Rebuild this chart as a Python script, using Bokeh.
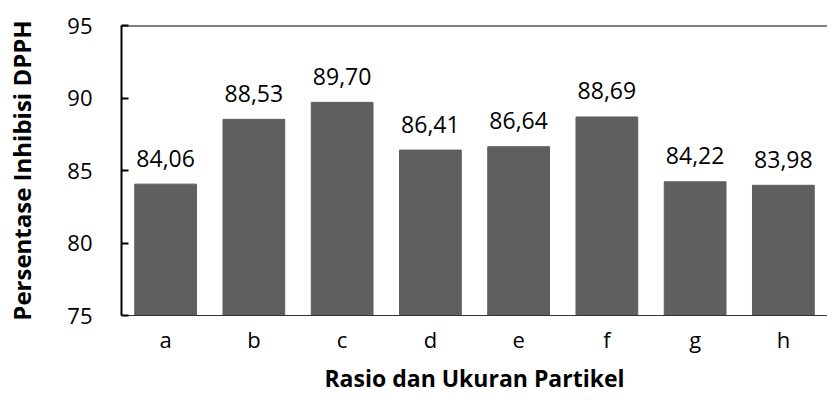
from bokeh.plotting import figure
from bokeh.models import ColumnDataSource, FactorRange, Range1d, FixedTicker, Span
from bokeh.core.properties import value
from bokeh.embed import file_html
from bokeh.resources import INLINE

categories = ["a", "b", "c", "d", "e", "f", "g", "h"]
values = [84.06, 88.53, 89.70, 86.41, 86.64, 88.69, 84.22, 83.98]
labels = ["84,06", "88,53", "89,70", "86,41", "86,64", "88,69", "84,22", "83,98"]
y_ticks = [75, 80, 85, 90, 95]

FONT = "Open Sans"

src = ColumnDataSource(dict(cat=categories, val=values, lab=labels))

p = figure(width=827, height=396, x_range=FactorRange(*categories, range_padding=0),
           y_range=Range1d(75, 95), output_backend="svg", toolbar_location=None,
           min_border_left=121, min_border_right=0, min_border_top=25, min_border_bottom=0)

p.vbar(x="cat", top="val", bottom=75, width=0.7, source=src, color="#5f5f5f")
p.text(x="cat", y="val", text="lab", source=src, text_align="center",
       text_baseline="alphabetic", y_offset=-26, text_font=value(FONT),
       text_font_size="23px", text_color="#000000")

p.outline_line_color = None
p.grid.visible = False
p.background_fill_color = "white"
p.border_fill_color = "white"

p.add_layout(Span(location=95, dimension="width", line_color="black", line_width=2))

ya = p.yaxis[0]
ya.ticker = FixedTicker(ticks=y_ticks)
ya.axis_line_color = "black"
ya.axis_line_width = 2
ya.major_tick_in = 7
ya.major_tick_out = 0
ya.major_tick_line_color = "black"
ya.major_tick_line_width = 2
ya.minor_tick_line_color = None
ya.major_label_text_font = FONT
ya.major_label_text_font_size = "22px"
ya.major_label_text_color = "black"
ya.major_label_standoff = 29
ya.axis_label = "Persentase Inhibisi DPPH"
ya.axis_label_text_font = FONT
ya.axis_label_text_font_style = "bold"
ya.axis_label_text_font_size = "24px"
ya.axis_label_text_color = "black"
ya.axis_label_standoff = 26

xa = p.xaxis[0]
xa.axis_line_color = "#333333"
xa.axis_line_width = 1
xa.major_tick_line_color = None
xa.minor_tick_line_color = None
xa.major_label_text_font = FONT
xa.major_label_text_font_size = "22px"
xa.major_label_text_color = "black"
xa.major_label_standoff = 2
xa.axis_label = "Rasio dan Ukuran Partikel"
xa.axis_label_text_font = FONT
xa.axis_label_text_font_style = "bold"
xa.axis_label_text_font_size = "23px"
xa.axis_label_text_color = "black"
xa.axis_label_standoff = 5

open("out.html", "w").write(file_html(p, INLINE))
